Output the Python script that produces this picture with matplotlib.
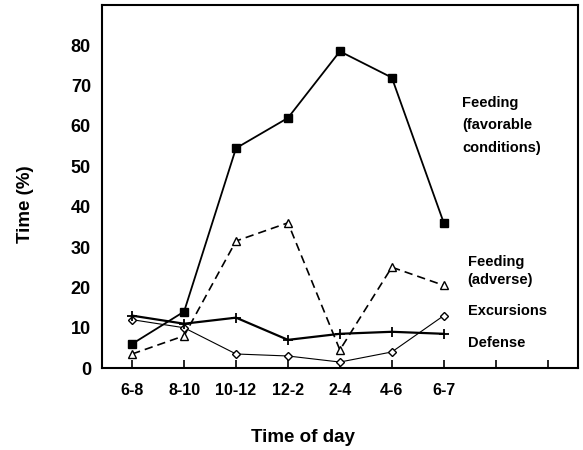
import matplotlib
matplotlib.use("Agg")
import matplotlib.pyplot as plt

categories = ["6-8", "8-10", "10-12", "12-2", "2-4", "4-6", "6-7"]
feeding_fav = [6, 14, 54.5, 62, 78.5, 72, 36]
feeding_adv = [3.5, 8, 31.5, 36, 4.5, 25, 20.5]
excursions = [12, 10, 3.5, 3, 1.5, 4, 13]
defense = [13, 11, 12.5, 7, 8.5, 9, 8.5]
yticks = [0, 10, 20, 30, 40, 50, 60, 70, 80]

plt.rcParams['font.family'] = ['Liberation Sans', 'DejaVu Sans']

fig = plt.figure(figsize=(5.83, 4.5), dpi=100)
ax = fig.add_axes([0.175, 0.182, 0.816, 0.807])
x = list(range(len(categories)))

ax.plot(x, feeding_fav, color='black', lw=1.3, marker='s', ms=6, mfc='black')
ax.plot(x, feeding_adv, color='black', lw=1.2, ls=(0, (5, 3)), marker='^', ms=5.5,
        mfc='white', mec='black')
ax.plot(x, excursions, color='black', lw=0.8, marker='D', ms=4, mfc='white', mec='black')
ax.plot(x, defense, color='black', lw=1.6, marker='+', ms=7, mew=1.3)

ax.set_xlim(-0.58, 8.58)
ax.set_ylim(0, 90)
ax.set_xticks(list(range(9)))
ax.set_xticklabels(categories + ["", ""], fontsize=11.5, fontweight='bold')
ax.set_yticks(yticks)
ax.set_yticklabels([str(v) for v in yticks], fontsize=13, fontweight='bold')
ax.tick_params(axis='x', direction='in', length=6, width=1.2, pad=11)
ax.tick_params(axis='y', direction='in', length=0, pad=8)
for s in ax.spines.values():
    s.set_linewidth(1.5)

tkw = dict(fontsize=10.5, fontweight='bold', va='center', ha='left')
ax.text(6.35, 65.6, "Feeding", **tkw)
ax.text(6.35, 60.2, "(favorable", **tkw)
ax.text(6.35, 54.5, "conditions)", **tkw)
ax.text(6.46, 26.2, "Feeding", **tkw)
ax.text(6.46, 21.8, "(adverse)", **tkw)
ax.text(6.46, 14.1, "Excursions", **tkw)
ax.text(6.46, 6.2, "Defense", **tkw)

fig.text(25/583, 1 - 204/450, "Time (%)", rotation=90, fontsize=13.5, fontweight='bold',
         ha='center', va='center')
fig.text(303/583, 1 - 437/450, "Time of day", fontsize=13.5, fontweight='bold',
         ha='center', va='center')

fig.savefig("out.png", dpi=100)
